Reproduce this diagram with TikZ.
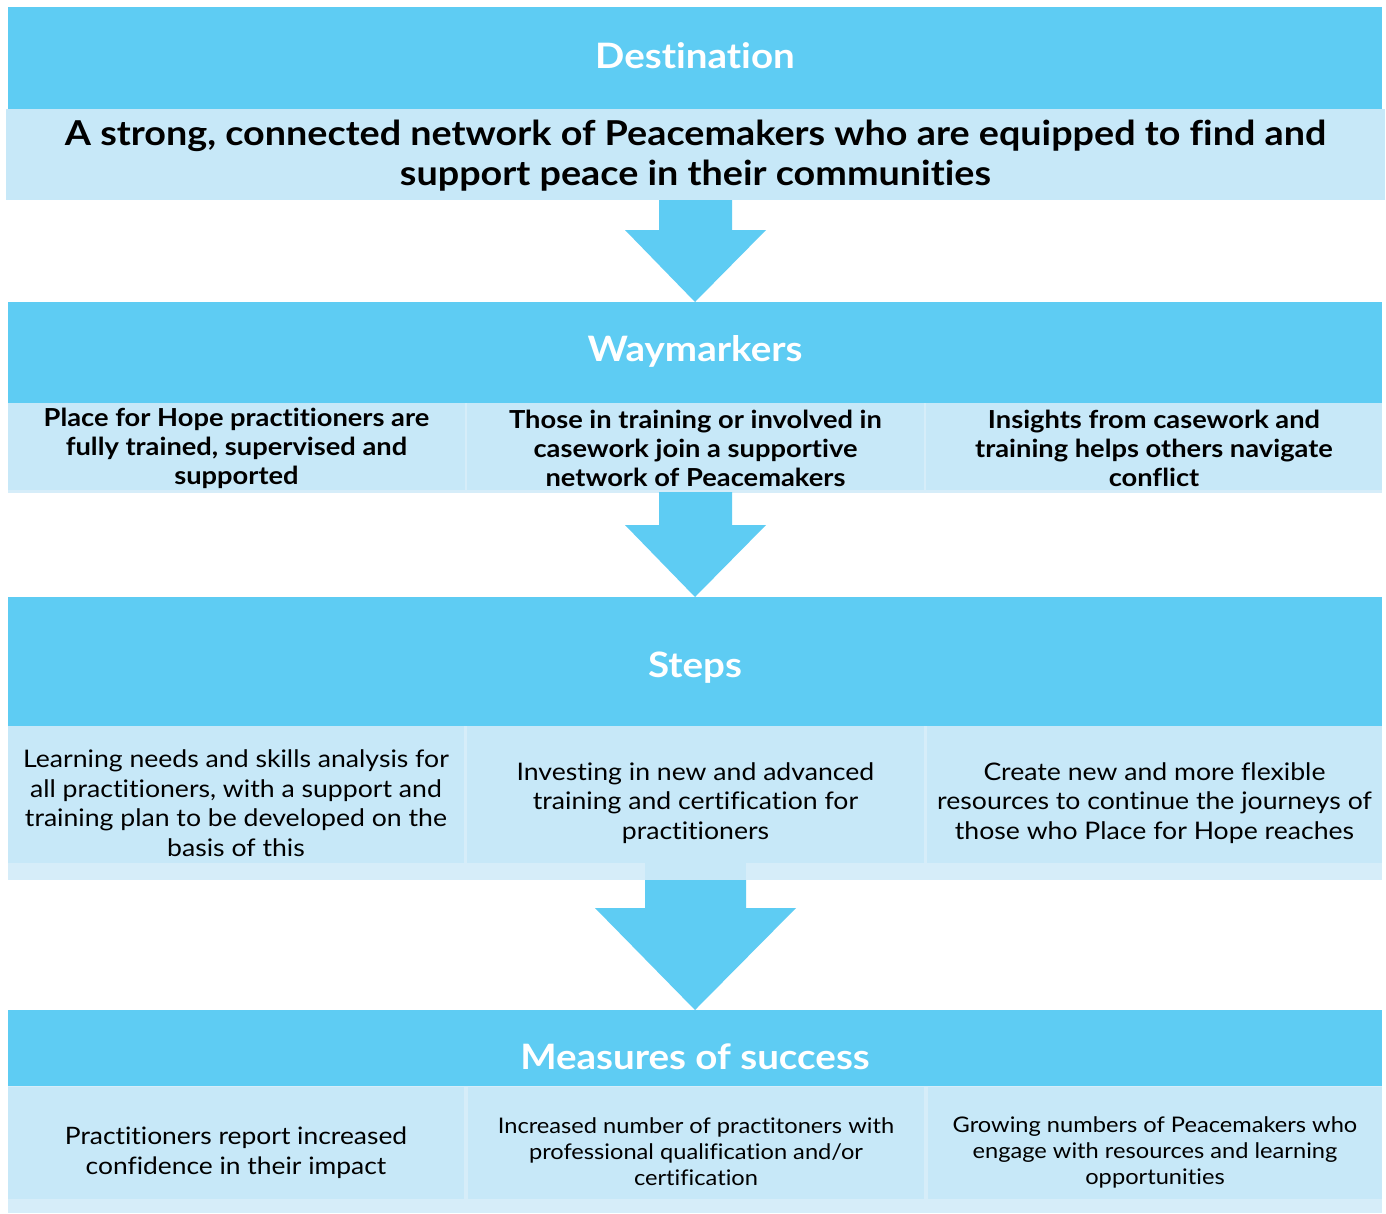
\documentclass[tikz,border=0pt]{standalone}
\usepackage{fontspec}
\setmainfont{Lato}[Ligatures=NoCommon, FakeStretch=1.1]
\usetikzlibrary{calc}
\definecolor{skyhead}{HTML}{5ECCF3}
\definecolor{skypale}{HTML}{C7E8F8}
\definecolor{skystrip}{HTML}{D6EDF9}

\begin{document}
\begin{tikzpicture}[x=1pt,y=-1pt,
  box/.style 2 args={minimum width=#1pt, minimum height=#2pt},
  panel/.style={rectangle, inner sep=0pt, outer sep=0pt, anchor=north west},
  headpanel/.style={panel, fill=skyhead},
  palepanel/.style={panel, fill=skypale},
  title/.style={inner sep=0pt, text=white, font=\bfseries\fontsize{35}{40}\selectfont},
  goaltext/.style={inner sep=0pt, align=center, font=\bfseries\fontsize{34.3}{40}\selectfont},
  waytext/.style={inner sep=0pt, align=center, font=\bfseries\fontsize{24.8}{29}\selectfont},
  steptext/.style={inner sep=0pt, align=center, font=\fontsize{24.2}{29.5}\selectfont},
  meastext/.style={inner sep=0pt, align=center, font=\fontsize{21.5}{26}\selectfont},
  measbig/.style={inner sep=0pt, align=center, font=\fontsize{24}{30}\selectfont},
  blockarrow/.style={fill=skyhead}
]
% canvas
\fill[white] (0,0) rectangle (1386,1213);
\path[use as bounding box] (0,0) rectangle (1386,1213);

% ---- Destination ----
\node[headpanel, box={1374}{102}] (destHead) at (8,7) {};
\node[title] (destTitle) at ([yshift=2pt]destHead.center) {Destination};
\node[palepanel, box={1379}{91}] (goal) at (6,109) {};
\node[goaltext] (goalText) at ([yshift=-1pt]goal.center)
  {A strong, connected network of Peacemakers who are equipped to find and\\support peace in their communities};

% ---- Waymarkers ----
\node[headpanel, box={1374}{101}] (wayHead) at (8,302) {};
\node[title] (wayTitle) at ([yshift=1pt]wayHead.center) {Waymarkers};
\fill[skystrip] (wayHead.south west) rectangle ($(wayHead.south east)+(0,90)$);
\node[palepanel, box={457}{87}] (way1) at (8,403) {};
\node[palepanel, box={457}{87}] (way2) at (467,403) {};
\node[palepanel, box={456}{87}] (way3) at (926,403) {};
\node[waytext] (way1Text) at ([yshift=-2pt]way1.center)
  {Place for Hope practitioners are\\fully trained, supervised and\\supported};
\node[waytext] (way2Text) at ([yshift=-2pt]way2.center)
  {Those in training or involved in\\casework join a supportive\\network of Peacemakers};
\node[waytext] (way3Text) at ([yshift=-2pt]way3.center)
  {Insights from casework and\\training helps others navigate\\conflict};

% ---- Steps ----
\node[headpanel, box={1374}{129}] (stepHead) at (8,597) {};
\node[title] (stepTitle) at ([yshift=-6pt]stepHead.center) {Steps};
\fill[skystrip] (stepHead.south west) rectangle ($(stepHead.south east)+(0,154)$);
\node[palepanel, box={456}{154}] (step1) at (8,726) {};
\node[palepanel, box={457}{154}] (step2) at (467,726) {};
\node[palepanel, box={455}{154}] (step3) at (927,726) {};
\foreach \c in {step1,step3}
  \fill[skystrip] (\c.south west) rectangle ($(\c.south east)+(0,-17)$);
\fill[skystrip] (step2.south west) rectangle ($(step2.south)+(-50.5,-17)$);
\fill[skystrip] ($(step2.south)+(50.5,0)$) rectangle ($(step2.south east)+(0,-17)$);
\node[steptext] (step1Text) at (step1.center)
  {Learning needs and skills analysis for\\all practitioners, with a support and\\training plan to be developed on the\\basis of this};
\node[steptext] (step2Text) at (step2.center)
  {Investing in new and advanced\\training and certification for\\practitioners};
\node[steptext] (step3Text) at (step3.center)
  {Create new and more flexible\\resources to continue the journeys of\\those who Place for Hope reaches};

% ---- Measures of success ----
\node[headpanel, box={1374}{76}] (measHead) at (8,1010) {};
\node[title] (measTitle) at ([yshift=-9pt]measHead.center) {Measures of success};
\fill[skystrip] (measHead.south west) rectangle ($(measHead.south east)+(0,127)$);
\node[palepanel, box={456}{126}] (meas1) at (8,1087) {};
\node[palepanel, box={456}{126}] (meas2) at (468,1087) {};
\node[palepanel, box={454}{126}] (meas3) at (928,1087) {};
\foreach \c in {meas1,meas2,meas3}
  \fill[skystrip] (\c.south west) rectangle ($(\c.south east)+(0,-14)$);
\node[measbig] (meas1Text) at ([yshift=-3pt]meas1.center)
  {Practitioners report increased\\confidence in their impact};
\node[meastext] (meas2Text) at ([yshift=-2pt]meas2.center)
  {Increased number of practitoners with\\professional qualification and/or\\certification};
\node[meastext] (meas3Text) at ([yshift=-2pt]meas3.center)
  {Growing numbers of Peacemakers who\\engage with resources and learning\\opportunities};

% ---- block arrows between the stages ----
\fill[blockarrow] ($(goal.south)+(-36.5,0)$) -- ($(goal.south)+(36.5,0)$)
  -- ($(goal.south)+(36.5,30)$) -- ($(goal.south)+(70.5,30)$)
  -- (wayHead.north) -- ($(goal.south)+(-70.5,30)$)
  -- ($(goal.south)+(-36.5,30)$) -- cycle;
\fill[blockarrow] ($(way2.south)+(-36.5,2)$) -- ($(way2.south)+(36.5,2)$)
  -- ($(way2.south)+(36.5,35)$) -- ($(way2.south)+(70.5,35)$)
  -- (stepHead.north) -- ($(way2.south)+(-70.5,35)$)
  -- ($(way2.south)+(-36.5,35)$) -- cycle;
\fill[blockarrow] ($(step2.south)+(-50.5,0)$) -- ($(step2.south)+(50.5,0)$)
  -- ($(step2.south)+(50.5,28)$) -- ($(step2.south)+(100.5,28)$)
  -- (measHead.north) -- ($(step2.south)+(-100.5,28)$)
  -- ($(step2.south)+(-50.5,28)$) -- cycle;
\end{tikzpicture}
\end{document}
